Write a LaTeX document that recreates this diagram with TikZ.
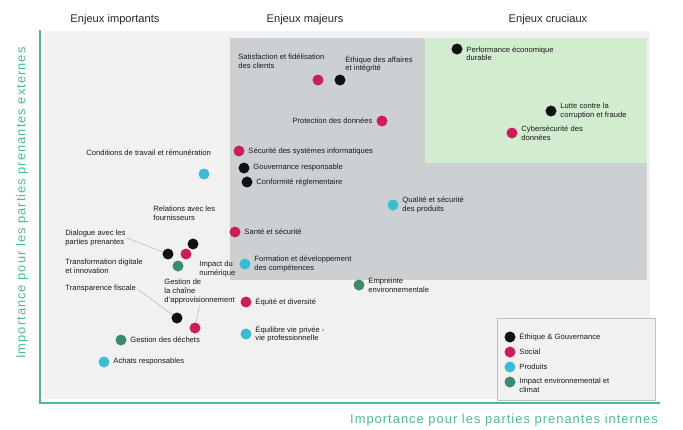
\documentclass[tikz,border=0pt]{standalone}
\usepackage{fontspec}
\setmainfont{Liberation Sans}
\newfontfamily\axefont[LetterSpace=8]{Liberation Sans}
\usepackage{tikz}
\usetikzlibrary{positioning}

\definecolor{axe}{HTML}{4DB896}
\definecolor{fond}{HTML}{F1F1F1}
\definecolor{majeur}{HTML}{CDD0D3}
\definecolor{crucial}{HTML}{D2ECD0}
\definecolor{gouv}{HTML}{111111}
\definecolor{social}{HTML}{CC1F5A}
\definecolor{produit}{HTML}{3BBCD4}
\definecolor{envir}{HTML}{3D8B6E}

\tikzset{
    pt/.style={circle, inner sep=0pt, minimum size=3.3mm},
    gv/.style={pt, fill=gouv},
    so/.style={pt, fill=social},
    pr/.style={pt, fill=produit},
    en/.style={pt, fill=envir},
    lbl/.style={inner sep=1pt, align=left, text=black!90, font=\fontsize{6.5}{7.5}\selectfont},
    titre/.style={text=black!85, font=\fontsize{9.5}{11}\selectfont},
    lien/.style={draw=black!45, very thin}
}

\begin{document}
\begin{tikzpicture}[x=0.3mm, y=-0.3mm]
            \useasboundingbox (0,0) rectangle (683,429);
            % zones de la matrice
            \fill[fond] (44,31) rectangle (650,399);
            \fill[majeur] (230,38) rectangle (647,280);
            \fill[crucial] (425,38) rectangle (647,163);
            \draw[axe, line width=1.2pt] (40,30) -- (40,403) -- (660,403);

            \node[titre] (t1) at (115,20) {Enjeux importants};
            \node[titre] (t2) at (305,20) {Enjeux majeurs};
            \node[titre] (t3) at (548,20) {Enjeux cruciaux};

            \node[axe, font=\axefont\fontsize{11}{13}\selectfont, rotate=90] (ay) at (22,203) {Importance pour les parties prenantes externes};
            \node[axe, font=\axefont\fontsize{11}{13}\selectfont, anchor=east] (ax) at (662,420) {Importance pour les parties prenantes internes};

            % enjeux cruciaux
            \node[gv] (a) at (457,49) {};
            \node[lbl, right=2pt of a, yshift=-4pt] (la) {Performance économique\\durable};
            \node[gv] (b) at (551,111) {};
            \node[lbl, right=2pt of b] (lb) {Lutte contre la\\corruption et fraude};
            \node[so] (c) at (512,133) {};
            \node[lbl, right=2pt of c] (lc) {Cybersécurité des\\données};

            % enjeux majeurs
            \node[so] (d) at (318,80) {};
            \node[lbl, anchor=west] (ld) at (237,61) {Satisfaction et fidélisation\\des clients};
            \node[gv] (e) at (340,80) {};
            \node[lbl, anchor=west] (le) at (344,64) {Éthique des affaires\\et intégrité};
            \node[so] (f) at (382,121) {};
            \node[lbl, left=2pt of f] (lf) {Protection des données};
            \node[so] (g) at (239,151) {};
            \node[lbl, right=2pt of g] (lg) {Sécurité des systèmes informatiques};
            \node[gv] (h) at (244,168) {};
            \node[lbl, right=2pt of h] (lh) {Gouvernance responsable};
            \node[gv] (i) at (247,182) {};
            \node[lbl, right=2pt of i] (li) {Conformité réglementaire};
            \node[pr] (j) at (393,205) {};
            \node[lbl, right=2pt of j] (lj) {Qualité et sécurité\\des produits};
            \node[so] (l) at (235,232) {};
            \node[lbl, right=2pt of l] (ll) {Santé et sécurité};
            \node[pr] (q) at (245,264) {};
            \node[lbl, right=2pt of q] (lq) {Formation et développement\\des compétences};

            % enjeux importants
            \node[pr] (k) at (204,174) {};
            \node[lbl, anchor=west] (lk) at (85,153) {Conditions de travail et rémunération};
            \node[gv] (m) at (193,244) {};
            \node[lbl, anchor=west] (lm) at (152,213) {Relations avec les\\fournisseurs};
            \node[so] (n) at (186,254) {};
            \node[gv] (o) at (168,254) {};
            \node[lbl, anchor=west] (lo) at (64,238) {Dialogue avec les\\parties prenantes};
            \node[lbl, anchor=west] (ln) at (64,266) {Transformation digitale\\et innovation};
            \node[en] (p) at (178,266) {};
            \node[lbl, anchor=west] (lp) at (198,269) {Impact du\\numérique};
            \node[gv] (r) at (177,318) {};
            \node[lbl, anchor=west] (lr) at (64,289) {Transparence fiscale};
            \node[so] (s) at (195,328) {};
            \node[lbl, anchor=north west] (ls) at (163,278) {Gestion de\\la chaîne\\d'approvisionnement};
            \node[en] (t) at (359,285) {};
            \node[lbl, right=2pt of t] (lt) {Empreinte\\environnementale};
            \node[so] (u) at (246,302) {};
            \node[lbl, right=2pt of u] (lu) {Équité et diversité};
            \node[pr] (v) at (246,334) {};
            \node[lbl, right=2pt of v] (lv) {Équilibre vie privée -\\vie professionnelle};
            \node[en] (w) at (121,340) {};
            \node[lbl, right=2pt of w] (lw) {Gestion des déchets};
            \node[pr] (x) at (104,362) {};
            \node[lbl, right=2pt of x] (lx) {Achats responsables};

            \draw[lien] (lo.east) -- (o);
            \draw[lien] (lr.east) -- (r);
            \draw[lien] (ls.south) -- (s);

            % légende
            \draw[black!25, fill=fond] (497,318) rectangle (655,400);
            \node[gv] (k1) at (510,337) {};
            \node[lbl, right=2pt of k1] (lk1) {Éthique \& Gouvernance};
            \node[so] (k2) at (510,352) {};
            \node[lbl, right=2pt of k2] (lk2) {Social};
            \node[pr] (k3) at (510,367) {};
            \node[lbl, right=2pt of k3] (lk3) {Produits};
            \node[en] (k4) at (510,382) {};
            \node[lbl, right=2pt of k4, yshift=-3pt] (lk4) {Impact environnemental et\\climat};
        \end{tikzpicture}
\end{document}
